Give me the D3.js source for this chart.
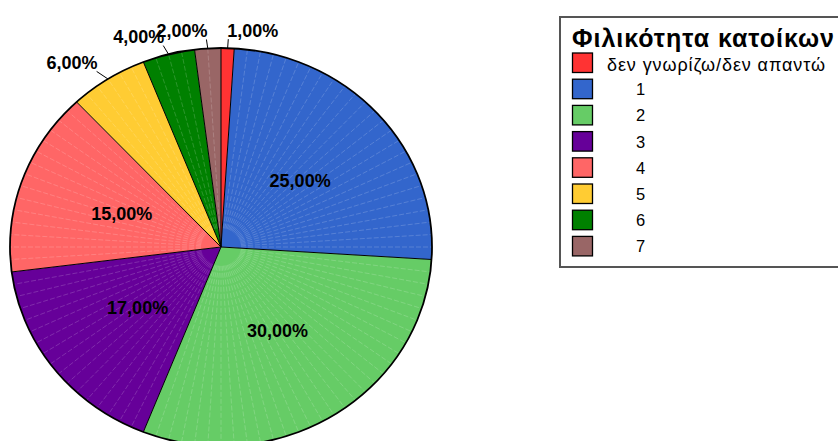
<!DOCTYPE html>
<html><head><meta charset="utf-8">
<script src="https://cdn.jsdelivr.net/npm/d3@7"></script>
<style>body{margin:0;background:#fff}svg{display:block}</style>
</head><body>
<script>
const categories = ["δεν γνωρίζω/δεν απαντώ","1","2","3","4","5","6","7"];
const values = [1,25,30,17,15,6,4,2];
const valueLabels = ["1,00%","25,00%","30,00%","17,00%","15,00%","6,00%","4,00%","2,00%"];
const colors = ["#ff3333","#3366cc","#66cc66","#660099","#ff6666","#ffcc33","#008000","#996666"];
const legendTitle = "Φιλικότητα κατοίκων";
const outsideLabels = [true,false,false,false,false,true,true,true];

const W=838,H=441;
const svg=d3.select("body").append("svg").attr("width",W).attr("height",H);
const cx=221, cy=247, rx=211, ry=199, sy=ry/rx;

const pie=d3.pie().sort(null).value(d=>d)(values);
const arc=d3.arc().innerRadius(0).outerRadius(rx);
const g=svg.append("g").attr("transform",`translate(${cx},${cy}) scale(1,${sy})`);

g.selectAll("path.slice").data(pie).join("path").attr("class","slice")
 .attr("d",arc).attr("fill",(d,i)=>colors[i]).attr("stroke","none");

// faint seams every 1%
const total=d3.sum(values);
const seamAngles=[];
for(let k=1;k<total;k++){seamAngles.push(k/total*2*Math.PI);}
const boundaries=new Set(pie.map(d=>Math.round(d.startAngle*1e6)));
g.selectAll("line.seam").data(seamAngles.filter(a=>!boundaries.has(Math.round(a*1e6)))).join("line")
 .attr("x1",a=>20*Math.sin(a)).attr("y1",a=>-20*Math.cos(a))
 .attr("x2",a=>rx*Math.sin(a)).attr("y2",a=>-rx*Math.cos(a))
 .attr("stroke","#fff").attr("stroke-opacity",0.22).attr("stroke-width",0.8)
 .attr("stroke-dasharray","5 2").attr("vector-effect","non-scaling-stroke");

// slice borders
g.selectAll("line.bd").data(pie).join("line")
 .attr("x1",0).attr("y1",0)
 .attr("x2",d=>rx*Math.sin(d.startAngle)).attr("y2",d=>-rx*Math.cos(d.startAngle))
 .attr("stroke","#000").attr("stroke-width",1).attr("vector-effect","non-scaling-stroke");
g.append("circle").attr("r",rx).attr("fill","none").attr("stroke","#000")
 .attr("stroke-width",1.8).attr("vector-effect","non-scaling-stroke");

// labels
const lab=svg.append("g").attr("font-family","'Liberation Sans',Arial,sans-serif")
 .attr("font-weight","bold").attr("font-size",18).attr("fill","#000");
pie.forEach((d,i)=>{
  const a=(d.startAngle+d.endAngle)/2;
  if(outsideLabels[i]){
    const kx=1.1, ky=1.045;
    const x1=cx+rx*Math.sin(a), y1=cy-ry*Math.cos(a);
    const x2=cx+rx*kx*Math.sin(a), y2=cy-ry*ky*Math.cos(a);
    svg.append("line").attr("x1",x1).attr("y1",y1).attr("x2",x2).attr("y2",y2)
      .attr("stroke","#000").attr("stroke-width",1);
    const right=Math.sin(a)>0;
    lab.append("text").attr("x",right?x2-1:x2+1).attr("y",y2-2.5)
      .attr("text-anchor",right?"start":"end").text(valueLabels[i]);
  } else {
    const c=arc.centroid(d);
    lab.append("text").attr("x",cx+c[0]).attr("y",cy+c[1]*sy).attr("dy","0.35em")
      .attr("text-anchor","middle").text(valueLabels[i]);
  }
});

// legend
const lg=svg.append("g").attr("font-family","'Liberation Sans',Arial,sans-serif");
lg.append("rect").attr("x",560).attr("y",17).attr("width",400).attr("height",250)
 .attr("fill","#fff").attr("stroke","#555").attr("stroke-width",2);
lg.append("text").attr("x",572).attr("y",47).attr("font-weight","bold").attr("font-size",25)
 .attr("textLength",262).attr("lengthAdjust","spacing").text(legendTitle);
const step=26.2, top0=53;
categories.forEach((c,i)=>{
  const y=top0+i*step;
  lg.append("rect").attr("x",572.5).attr("y",y).attr("width",20).attr("height",19.5)
    .attr("fill",colors[i]).attr("stroke","#000").attr("stroke-width",1.3);
  if(i===0){
    lg.append("text").attr("x",607).attr("y",y+18).attr("font-size",18)
      .attr("textLength",218).attr("lengthAdjust","spacing").text(c);
  } else {
    lg.append("text").attr("x",636).attr("y",y+16).attr("font-size",16.5).text(c);
  }
});
</script>
</body></html>
